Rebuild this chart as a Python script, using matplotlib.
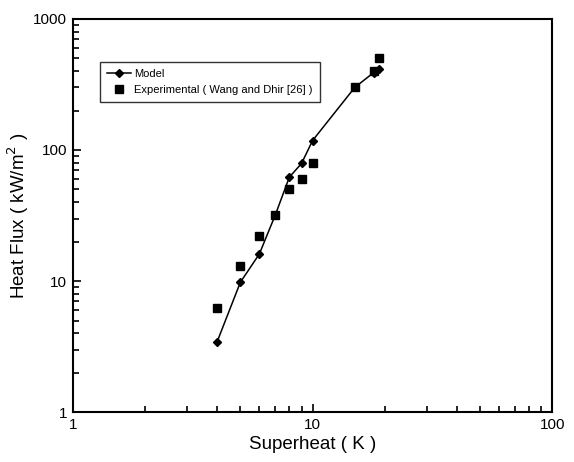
import numpy as np
import matplotlib.pyplot as plt
from matplotlib.ticker import FixedLocator, FixedFormatter, LogLocator, NullFormatter

plt.rcParams["font.family"] = ["Liberation Sans", "DejaVu Sans"]

# Modell: Waermestromdichte ueber Ueberhitzung
ModellUeberhitzung = [4, 5, 6, 7, 8, 9, 10, 15, 18, 19]
ModellWaermestrom = [3.45, 9.8, 16.1, 32.1, 62, 79, 118, 300, 390, 413]

# Messwerte (Wang and Dhir [26])
ExpUeberhitzung = [4, 5, 6, 7, 8, 9, 10, 15, 18, 19]
ExpWaermestrom = [6.2, 13.0, 22.0, 32.0, 50.0, 60.0, 80.0, 300, 400, 500]

fig = plt.figure(figsize=(5.74, 4.62), dpi=100)
ax = fig.add_axes([0.127, 0.108, 0.835, 0.851])

ax.plot(ModellUeberhitzung, ModellWaermestrom, color="black", lw=1.1,
        marker="D", ms=4.5, label="Model")
ax.plot(ExpUeberhitzung, ExpWaermestrom, color="black", ls="none",
        marker="s", ms=6, label="Experimental ( Wang and Dhir [26] )")

ax.set_xscale("log")
ax.set_yscale("log")
ax.set_xlim(1, 100)
ax.set_ylim(1, 1000)

ax.xaxis.set_major_locator(FixedLocator([1, 10, 100]))
ax.xaxis.set_major_formatter(FixedFormatter(["1", "10", "100"]))
ax.yaxis.set_major_locator(FixedLocator([1, 10, 100, 1000]))
ax.yaxis.set_major_formatter(FixedFormatter(["1", "10", "100", "1000"]))
for achse in (ax.xaxis, ax.yaxis):
    achse.set_minor_locator(LogLocator(base=10, subs=np.arange(2, 10)))
    achse.set_minor_formatter(NullFormatter())

ax.tick_params(which="both", direction="in", top=False, right=False,
               labelsize=11, width=1.2)
ax.tick_params(which="major", length=6, pad=4)
ax.tick_params(which="minor", length=4)
for s in ax.spines.values():
    s.set_linewidth(1.5)

ax.set_xlabel("Superheat ( K )", fontsize=13.5, labelpad=3)
ax.set_ylabel("Heat Flux ( kW/m$^2$ )", fontsize=13.5, labelpad=2)

leg = ax.legend(loc="upper left", bbox_to_anchor=(0.045, 0.905), fontsize=8,
                frameon=True, fancybox=False, edgecolor="black",
                handlelength=2.2, handletextpad=0.3, borderpad=0.6,
                labelspacing=0.6, markerscale=0.85)
leg.get_frame().set_linewidth(1.0)

plt.savefig("out.png", dpi=100)
